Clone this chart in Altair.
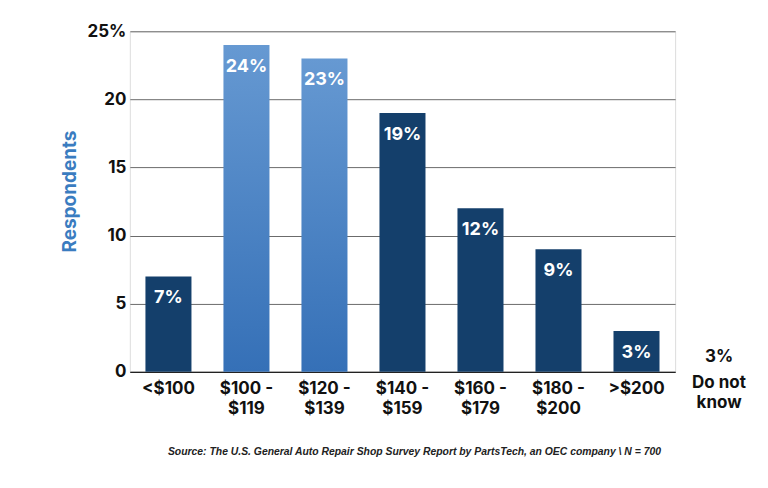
import altair as alt
import pandas as pd

categories = ["<$100", "$100 -\n$119", "$120 -\n$139", "$140 -\n$159",
              "$160 -\n$179", "$180 -\n$200", ">$200"]
values = [7, 24, 23, 19, 12, 9, 3]
highlight = [False, True, True, False, False, False, False]
y_ticks = [0, 5, 10, 15, 20, 25]
dont_know_value = "3%"
dont_know_label = "Do not\nknow"
source_text = "Source: The U.S. General Auto Repair Shop Survey Report by PartsTech, an OEC company \\ N = 700"

df = pd.DataFrame({"cat": categories, "val": values, "hl": highlight})
df["lbl"] = df["val"].astype(str) + "%"

FONT = "Inter"
DARK = "#143f6b"
W, H = 546, 341

x_enc = alt.X("cat:N", sort=categories, title=None,
              scale=alt.Scale(paddingInner=0.41, paddingOuter=0.2),
              axis=alt.Axis(labelExpr="split(datum.value, '\\n')", labelAngle=0,
                            labelFont=FONT, labelFontSize=17, labelFontWeight="bold",
                            labelColor="#111111", labelLineHeight=20, labelPadding=9,
                            ticks=False, domain=True, domainColor="#222222",
                            domainWidth=1.2, grid=False))
y_enc = alt.Y("val:Q", title="Respondents",
              scale=alt.Scale(domain=[0, 25], nice=False),
              axis=alt.Axis(values=y_ticks,
                            labelExpr="datum.value == 25 ? '25%' : datum.label",
                            labelFont=FONT, labelFontSize=17, labelFontWeight="bold",
                            labelColor="#111111", labelPadding=4, ticks=False,
                            domain=False, grid=True, gridColor="#6a6a6a",
                            gridWidth=1, titleFont=FONT, titleFontSize=19,
                            titleFontWeight="bold", titleColor="#3a7cc0",
                            titlePadding=8, titleY=160))

base = alt.Chart(df)

grad = alt.Gradient(gradient="linear", x1=0, y1=0, x2=0, y2=1,
                    stops=[alt.GradientStop(color="#6699d2", offset=0),
                           alt.GradientStop(color="#3570b7", offset=1)])

bars_dark = base.transform_filter("!datum.hl").mark_bar(color=DARK).encode(x=x_enc, y=y_enc)
bars_light = base.transform_filter("datum.hl").mark_bar(color=grad).encode(x=x_enc, y=y_enc)

labels = base.mark_text(baseline="top", dy=13, color="white", font=FONT,
                        fontSize=18, fontWeight="bold").encode(
    x=alt.X("cat:N", sort=categories), y="val:Q", text="lbl:N")

dk_df = pd.DataFrame({"v": [dont_know_value], "l": [dont_know_label]})
dk_val = alt.Chart(dk_df).mark_text(font=FONT, fontSize=17, fontWeight="bold",
                                    color="#111111", baseline="middle").encode(
    x=alt.value(W + 44), y=alt.value(H - 15), text="v:N")
dk_lbl = alt.Chart(dk_df).mark_text(font=FONT, fontSize=17, fontWeight="bold",
                                    color="#111111", baseline="middle",
                                    lineBreak="\n", lineHeight=20).encode(
    x=alt.value(W + 44), y=alt.value(H + 11), text="l:N")

chart = alt.layer(bars_dark, bars_light, labels, dk_val, dk_lbl).properties(
    width=W, height=H,
    title=alt.TitleParams(text=source_text, orient="bottom", anchor="middle",
                          font="Liberation Sans", fontSize=10.4, fontStyle="italic",
                          fontWeight="bold", color="#222222", offset=30, dx=12),
    autosize=alt.AutoSizeParams(type="none"),
    padding={"left": 122, "top": 23, "right": 85, "bottom": 115},
).configure_view(stroke=None).configure(background="white")

chart.save("out.html", embed_options={"renderer": "svg", "actions": False})
